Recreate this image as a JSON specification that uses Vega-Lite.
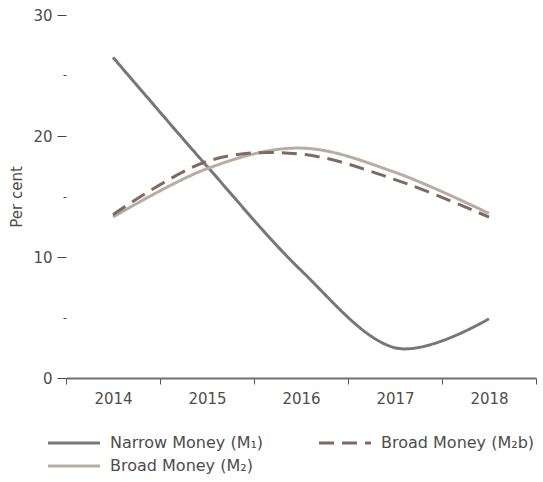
{
  "$schema": "https://vega.github.io/schema/vega-lite/v6.json",
  "width": 470,
  "height": 363,
  "autosize": {"type": "none"},
  "padding": {"left": 66, "top": 15, "right": 7, "bottom": 104},
  "background": "white",
  "config": {
    "view": {"stroke": null},
    "font": "DejaVu Sans"
  },
  "data": {
    "values": [
      {"year": "2014", "series": "Narrow Money (M₁)", "value": 26.5},
      {"year": "2015", "series": "Narrow Money (M₁)", "value": 17.5},
      {"year": "2016", "series": "Narrow Money (M₁)", "value": 8.9},
      {"year": "2017", "series": "Narrow Money (M₁)", "value": 2.5},
      {"year": "2018", "series": "Narrow Money (M₁)", "value": 4.9},
      {"year": "2014", "series": "Broad Money (M₂)", "value": 13.3},
      {"year": "2015", "series": "Broad Money (M₂)", "value": 17.3},
      {"year": "2016", "series": "Broad Money (M₂)", "value": 19.0},
      {"year": "2017", "series": "Broad Money (M₂)", "value": 17.0},
      {"year": "2018", "series": "Broad Money (M₂)", "value": 13.6},
      {"year": "2014", "series": "Broad Money (M₂b)", "value": 13.5},
      {"year": "2015", "series": "Broad Money (M₂b)", "value": 17.9},
      {"year": "2016", "series": "Broad Money (M₂b)", "value": 18.5},
      {"year": "2017", "series": "Broad Money (M₂b)", "value": 16.4},
      {"year": "2018", "series": "Broad Money (M₂b)", "value": 13.3}
    ]
  },
  "mark": {"type": "line", "interpolate": "cardinal", "strokeWidth": 3, "strokeCap": "butt"},
  "encoding": {
    "x": {
      "field": "year",
      "type": "ordinal",
      "scale": {"type": "band", "paddingInner": 0, "paddingOuter": 0},
      "axis": {
        "title": null,
        "labelAngle": 0,
        "labelFontSize": 15,
        "labelColor": "#4d4d4d",
        "labelPadding": 7,
        "tickBand": "extent",
        "tickSize": 6,
        "tickColor": "#555",
        "domainColor": "#6e6e6e",
        "domainWidth": 2
      }
    },
    "y": {
      "field": "value",
      "type": "quantitative",
      "scale": {"domain": [0, 30], "nice": false},
      "axis": {
        "title": "Per cent",
        "titleFontSize": 15,
        "titleFontWeight": "normal",
        "titleColor": "#4d4d4d",
        "titlePadding": 8,
        "values": [0, 5, 10, 15, 20, 25, 30],
        "labelExpr": "datum.value % 10 === 0 ? datum.label : ''",
        "labelFontSize": 15,
        "labelColor": "#4d4d4d",
        "labelPadding": 5,
        "domain": false,
        "grid": false,
        "tickColor": "#444",
        "tickSize": {"condition": {"test": "datum.value % 10 === 0", "value": 9}, "value": 3},
        "tickWidth": 1
      }
    },
    "color": {
      "field": "series",
      "type": "nominal",
      "scale": {
        "domain": ["Narrow Money (M₁)", "Broad Money (M₂)", "Broad Money (M₂b)"],
        "range": ["#777777", "#b8aca6", "#7d6b63"]
      },
      "legend": {
        "title": null,
        "orient": "none",
        "legendX": -4,
        "legendY": 416,
        "padding": 0,
        "columns": 2,
        "columnPadding": 48,
        "rowPadding": 3,
        "symbolType": "M-2.5,0H2.5",
        "symbolSize": 433,
        "symbolStrokeWidth": 3,
        "labelFontSize": 16,
        "labelColor": "#4d4d4d",
        "labelOffset": 24,
        "labelLimit": 300
      }
    },
    "strokeDash": {
      "field": "series",
      "type": "nominal",
      "scale": {
        "domain": ["Narrow Money (M₁)", "Broad Money (M₂)", "Broad Money (M₂b)"],
        "range": [[1, 0], [1, 0], [15, 8]]
      },
      "legend": null
    }
  }
}
